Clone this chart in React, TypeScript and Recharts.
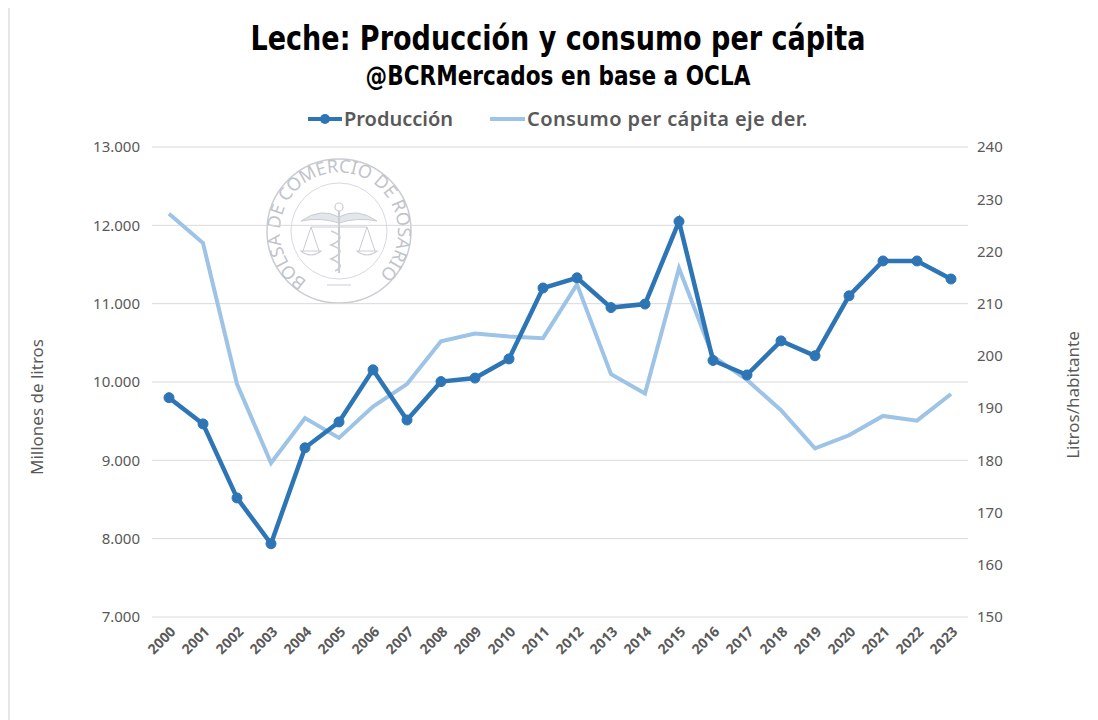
import React from 'react';
import { CartesianGrid, Line, LineChart, XAxis, YAxis } from 'recharts';

const YEARS = [
  '2000', '2001', '2002', '2003', '2004', '2005', '2006', '2007', '2008', '2009', '2010', '2011',
  '2012', '2013', '2014', '2015', '2016', '2017', '2018', '2019', '2020', '2021', '2022', '2023',
];
// millones de litros
const PRODUCCION = [
  9800, 9465, 8520, 7935, 9160, 9490, 10155, 9515, 10005, 10050, 10295, 11200,
  11330, 10950, 10995, 12050, 10275, 10090, 10525, 10335, 11100, 11545, 11545, 11315,
];
// litros por habitante (eje derecho)
const CONSUMO = [
  227.2, 221.6, 194.6, 179.5, 188.1, 184.3, 190.3, 194.6, 202.8, 204.3, 203.7, 203.4,
  213.7, 196.5, 192.8, 216.8, 199.9, 195.4, 189.6, 182.3, 184.8, 188.5, 187.6, 192.7,
];
const LEFT_TICKS = [7000, 8000, 9000, 10000, 11000, 12000, 13000];
const RIGHT_TICKS = [150, 160, 170, 180, 190, 200, 210, 220, 230, 240];

const data = YEARS.map((year, i) => ({ year, produccion: PRODUCCION[i], consumo: CONSUMO[i] }));

const DARK = '#2E75B6';
const LIGHT = '#9DC3E6';
const GRAY = '#595959';
const FONT = "'Noto Sans', 'Open Sans', sans-serif";
const TITLE_FONT = "'DejaVu Sans', sans-serif";

const fmtThousands = (v: number) => v.toLocaleString('de-DE');

function YearTick({ x, y, payload }: any) {
  return (
    <g transform={`translate(${x + 4},${y + 4})`}>
      <text
        x={0}
        y={0}
        dy="0.35em"
        textAnchor="end"
        transform="rotate(-45)"
        fill={GRAY}
        fontSize={14}
        fontWeight={700}
        fontFamily={FONT}
      >
        {payload.value}
      </text>
    </g>
  );
}

// marca de agua: sello de la Bolsa de Comercio de Rosario
function Seal() {
  const c = '#c9cdd3';
  return (
    <svg width={160} height={160} style={{ position: 'absolute', left: 249, top: 143 }}>
      <defs>
        <path id="sealArc" d="M 48 130 A 59 59 0 1 1 112 130" />
      </defs>
      <circle cx={80} cy={80} r={72} fill="none" stroke={c} strokeWidth={1.5} />
      <circle cx={80} cy={80} r={48} fill="none" stroke="#d6dae0" strokeWidth={1} />
      <text fontSize={18} fill="#bfc4cb" fontFamily={FONT}>
        <textPath href="#sealArc" textLength={292} lengthAdjust="spacing">
          BOLSA DE COMERCIO DE ROSARIO
        </textPath>
      </text>
      <path d="M 42 70 Q 62 56 80 66 Q 98 56 118 70 Q 98 66 80 72 Q 62 66 42 70 Z" fill="#e3e6ea" stroke={c} strokeWidth={1} />
      <circle cx={80} cy={56} r={4} fill="none" stroke={c} strokeWidth={1.2} />
      <line x1={80} y1={60} x2={80} y2={122} stroke={c} strokeWidth={2} />
      <line x1={52} y1={76} x2={108} y2={76} stroke={c} strokeWidth={1.2} />
      <path d="M 44 100 L 52 76 L 60 100 M 100 100 L 108 76 L 116 100" fill="none" stroke={c} strokeWidth={1} />
      <path d="M 42 100 Q 52 108 62 100 Z M 98 100 Q 108 108 118 100 Z" fill="none" stroke={c} strokeWidth={1.2} />
      <path d="M 72 80 Q 90 86 72 94 Q 90 100 72 108 Q 88 114 76 120" fill="none" stroke={c} strokeWidth={1.6} />
      <line x1={68} y1={134} x2={92} y2={134} stroke={c} strokeWidth={1} />
    </svg>
  );
}

export default function App() {
  return (
    <div
      style={{
        position: 'relative',
        width: 1088,
        height: 712,
        marginTop: -2,
        borderTop: '2px solid #e6e6e6',
        borderLeft: '2px solid #e6e6e6',
        background: '#fff',
        fontFamily: FONT,
      }}
    >
      <div
        style={{
          position: 'absolute',
          left: 0,
          width: 1096,
          top: 0,
          textAlign: 'center',
          fontFamily: TITLE_FONT,
          fontWeight: 700,
          color: '#000',
        }}
      >
        <div style={{ position: 'absolute', left: 0, right: 0, top: 10, fontSize: 34, lineHeight: '40px', transform: 'scaleX(0.795)', whiteSpace: 'nowrap' }}>
          Leche: Producción y consumo per cápita
        </div>
        <div style={{ position: 'absolute', left: 0, right: 0, top: 52, fontSize: 27, lineHeight: '32px', transform: 'scaleX(0.8)', whiteSpace: 'nowrap' }}>
          @BCRMercados en base a OCLA
        </div>
      </div>

      <div
        style={{
          position: 'absolute',
          top: 97,
          left: 298,
          display: 'flex',
          alignItems: 'center',
          fontSize: 20,
          fontWeight: 600,
          color: GRAY,
          whiteSpace: 'nowrap',
          lineHeight: '28px',
        }}
      >
        <svg width={34} height={12}>
          <line x1={0} y1={6} x2={34} y2={6} stroke={DARK} strokeWidth={4} />
          <circle cx={17} cy={6} r={5} fill={DARK} />
        </svg>
        <span style={{ marginLeft: 2 }}>Producción</span>
        <svg width={35} height={12} style={{ marginLeft: 37 }}>
          <line x1={0} y1={6} x2={35} y2={6} stroke={LIGHT} strokeWidth={4} />
        </svg>
        <span style={{ marginLeft: 2, letterSpacing: 0.4 }}>Consumo per cápita eje der.</span>
      </div>

      <Seal />

      <div
        style={{
          position: 'absolute',
          left: 26,
          top: 399,
          transform: 'translate(-50%, -50%) rotate(-90deg)',
          fontSize: 17,
          color: GRAY,
          whiteSpace: 'nowrap',
        }}
      >
        Millones de litros
      </div>
      <div
        style={{
          position: 'absolute',
          left: 1062,
          top: 387,
          transform: 'translate(-50%, -50%) rotate(-90deg)',
          fontSize: 17,
          color: GRAY,
          whiteSpace: 'nowrap',
        }}
      >
        Litros/habitante
      </div>

      <div style={{ position: 'absolute', left: 0, top: 0 }}>
        <LineChart width={1080} height={700} data={data} margin={{ top: 139, right: 62, bottom: 41, left: 82 }}>
          <CartesianGrid vertical={false} stroke="#d9d9d9" yAxisId="left" />
          <XAxis
            dataKey="year"
            interval={0}
            padding={{ left: 17, right: 17 }}
            tickLine={false}
            axisLine={false}
            height={50}
            tick={<YearTick />}
          />
          <YAxis
            yAxisId="left"
            orientation="left"
            width={60}
            domain={[7000, 13000]}
            ticks={LEFT_TICKS}
            tickFormatter={fmtThousands}
            tickLine={false}
            axisLine={false}
            tickMargin={6}
            tick={{ fill: GRAY, fontSize: 15, fontFamily: FONT }}
          />
          <YAxis
            yAxisId="right"
            orientation="right"
            width={60}
            domain={[150, 240]}
            ticks={RIGHT_TICKS}
            tickLine={false}
            axisLine={false}
            tickMargin={3}
            tick={{ fill: GRAY, fontSize: 15, fontFamily: FONT, textAnchor: 'start' }}
          />
          <Line
            yAxisId="right"
            dataKey="consumo"
            stroke={LIGHT}
            strokeWidth={4}
            dot={false}
            activeDot={false}
            isAnimationActive={false}
          />
          <Line
            yAxisId="left"
            dataKey="produccion"
            stroke={DARK}
            strokeWidth={4.5}
            dot={{ r: 5, fill: DARK, stroke: DARK, strokeWidth: 1 }}
            activeDot={false}
            isAnimationActive={false}
          />
        </LineChart>
      </div>
    </div>
  );
}
